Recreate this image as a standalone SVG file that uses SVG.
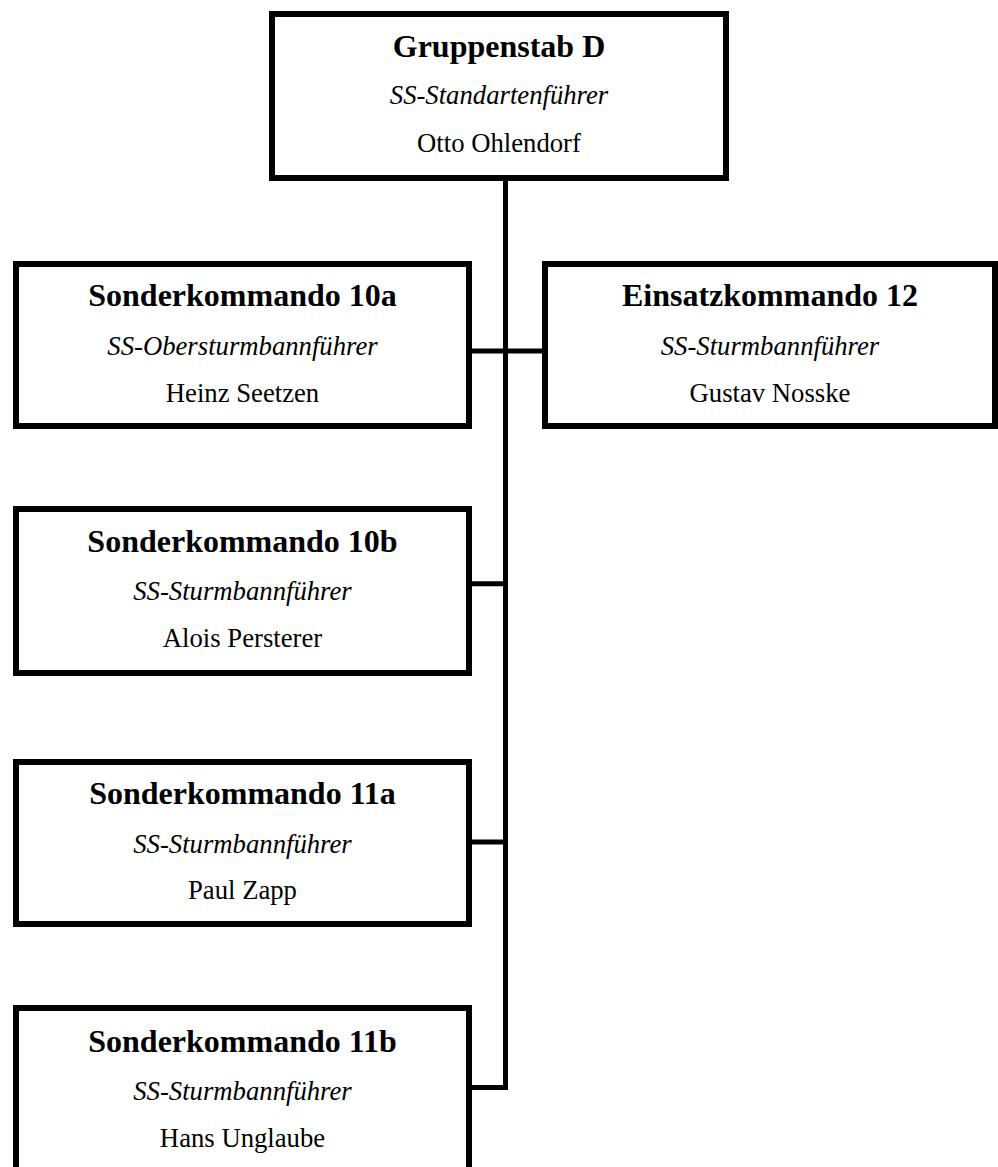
<svg xmlns="http://www.w3.org/2000/svg" width="998" height="1167" viewBox="0 0 998 1167">
<style>
.box{fill:#fff;stroke:#000;stroke-width:6}
.t{font-family:"Liberation Serif","Times New Roman",serif;fill:#000;text-anchor:middle}
.h{font-size:32px;font-weight:bold}
.r{font-size:26.7px;font-style:italic}
.n{font-size:26.7px}
.c{fill:none;stroke:#000;stroke-width:5;stroke-linejoin:miter;stroke-linecap:butt}
</style>
<rect width="998" height="1167" fill="#fff"/>
<g id="connectors">
<path class="c" d="M505.5 181 V1087.5 H472"/>
<path class="c" d="M472 351 H542"/>
<path class="c" d="M472 583.7 H505.5"/>
<path class="c" d="M472 842 H505.5"/>
</g>
<g id="gruppenstab-d">
<rect class="box" x="272" y="14" width="454" height="164"/>
<text class="t h" x="499" y="56.7">Gruppenstab D</text>
<text class="t r" x="499" y="103.5">SS-Standartenführer</text>
<text class="t n" x="499" y="151.7">Otto Ohlendorf</text>
</g>
<g id="sk10a">
<rect class="box" x="16" y="264" width="453" height="162"/>
<text class="t h" x="242.5" y="305.7">Sonderkommando 10a</text>
<text class="t r" x="242.5" y="355">SS-Obersturmbannführer</text>
<text class="t n" x="242.5" y="402.3">Heinz Seetzen</text>
</g>
<g id="ek12">
<rect class="box" x="545" y="264" width="450" height="162"/>
<text class="t h" x="770" y="305.7">Einsatzkommando 12</text>
<text class="t r" x="770" y="355">SS-Sturmbannführer</text>
<text class="t n" x="770" y="402.3">Gustav Nosske</text>
</g>
<g id="sk10b">
<rect class="box" x="16" y="509" width="453" height="164"/>
<text class="t h" x="242.5" y="551.7">Sonderkommando 10b</text>
<text class="t r" x="242.5" y="600">SS-Sturmbannführer</text>
<text class="t n" x="242.5" y="647.3">Alois Persterer</text>
</g>
<g id="sk11a">
<rect class="box" x="16" y="762" width="453" height="162"/>
<text class="t h" x="242.5" y="804">Sonderkommando 11a</text>
<text class="t r" x="242.5" y="852.7">SS-Sturmbannführer</text>
<text class="t n" x="242.5" y="899.3">Paul Zapp</text>
</g>
<g id="sk11b">
<rect class="box" x="16" y="1008" width="453" height="170"/>
<text class="t h" x="242.5" y="1051.7">Sonderkommando 11b</text>
<text class="t r" x="242.5" y="1100">SS-Sturmbannführer</text>
<text class="t n" x="242.5" y="1146.7">Hans Unglaube</text>
</g>
</svg>
